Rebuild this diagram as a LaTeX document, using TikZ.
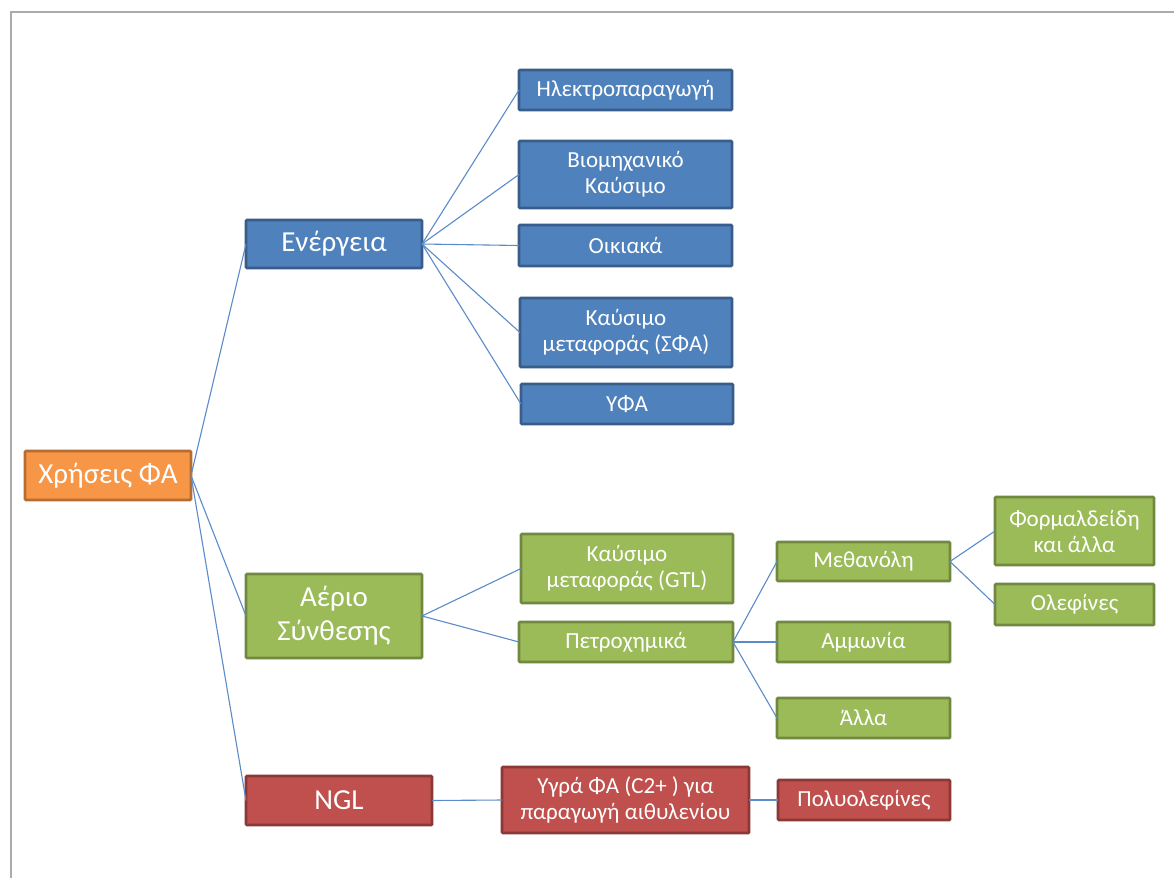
\documentclass[tikz,border=0pt]{standalone}
\usepackage{fontspec}
\setmainfont{Carlito}
\definecolor{orfill}{HTML}{F79646}
\definecolor{ordraw}{HTML}{B66D31}
\definecolor{blfill}{HTML}{4F81BD}
\definecolor{bldraw}{HTML}{385D8A}
\definecolor{grfill}{HTML}{9BBB59}
\definecolor{grdraw}{HTML}{71893F}
\definecolor{rdfill}{HTML}{C0504D}
\definecolor{rddraw}{HTML}{8C3836}
\definecolor{linkc}{HTML}{5B8BC8}
\definecolor{framec}{HTML}{A8ABB0}
\tikzset{
  box/.style={rectangle, draw, line width=2.8pt, text=white, align=center,
    inner sep=0pt, outer sep=0pt, rounded corners=1pt},
  big/.style={box, font=\fontsize{29}{34}\selectfont},
  small/.style={box, font=\fontsize{23}{26}\selectfont},
  orbox/.style={fill=orfill, draw=ordraw},
  blbox/.style={fill=blfill, draw=bldraw},
  grbox/.style={fill=grfill, draw=grdraw},
  rdbox/.style={fill=rdfill, draw=rddraw},
  wh/.style 2 args={minimum width=#1pt, minimum height=#2pt},
  link/.style={draw=linkc, line width=1.1pt}
}
\begin{document}
\begin{tikzpicture}[x=1pt, y=-1pt]
\useasboundingbox[fill=white] (0,0) rectangle (1174,878);
% page frame
\draw[framec, line width=1.6pt] (11,878) -- (11,12) -- (1174,12);

% root
\node[big, orbox, wh={166}{49}] (root) at (108,475.5) {Χρήσεις ΦΑ};

% first level
\node[big, blbox, wh={176}{48}] (energy) at (334,244) {Ενέργεια};
\node[big, grbox, wh={176}{84}] (syngas) at (334,616) {Αέριο\\Σύνθεσης};
\node[big, rdbox, wh={186}{49}] (ngl) at (339,800.5) {NGL};

% energy uses
\node[small, blbox, wh={213}{40}] (elec) at (625.5,90) {Ηλεκτροπαραγωγή};
\node[small, blbox, wh={213}{67}] (ind) at (625.5,174.5) {Βιομηχανικό\\Καύσιμο};
\node[small, blbox, wh={213}{41}] (home) at (625.5,245.5) {Οικιακά};
\node[small, blbox, wh={212}{69}] (cng) at (626,332.5) {Καύσιμο\\μεταφοράς (ΣΦΑ)};
\node[small, blbox, wh={212}{40}] (lng) at (627,404) {ΥΦΑ};

% syngas uses
\node[small, grbox, wh={212}{69}] (gtl) at (627,568.5) {Καύσιμο\\μεταφοράς (GTL)};
\node[small, grbox, wh={214}{40}] (petro) at (626,642) {Πετροχημικά};
\node[small, grbox, wh={173}{39}] (meth) at (863.5,561.5) {Μεθανόλη};
\node[small, grbox, wh={173}{40}] (ammo) at (863.5,642) {Αμμωνία};
\node[small, grbox, wh={173}{40}] (other) at (863.5,718) {Άλλα};
\node[small, grbox, wh={159}{68}] (form) at (1074.5,531) {Φορμαλδείδη\\και άλλα};
\node[small, grbox, wh={159}{41}] (olef) at (1074.5,604.5) {Ολεφίνες};

% NGL uses
\node[small, rdbox, wh={247}{66}] (liq) at (625.5,800) {Υγρά ΦΑ (C2+ ) για\\παραγωγή αιθυλενίου};
\node[small, rdbox, wh={172}{40}] (poly) at (864,800) {Πολυολεφίνες};

% connectors
\foreach \a/\b in {root/energy, root/syngas, root/ngl,
    energy/elec, energy/ind, energy/home, energy/cng, energy/lng,
    syngas/gtl, syngas/petro,
    petro/meth, petro/ammo, petro/other,
    meth/form, meth/olef,
    ngl/liq, liq/poly}
  \draw[link] (\a.east) -- (\b.west);
\end{tikzpicture}
\end{document}
